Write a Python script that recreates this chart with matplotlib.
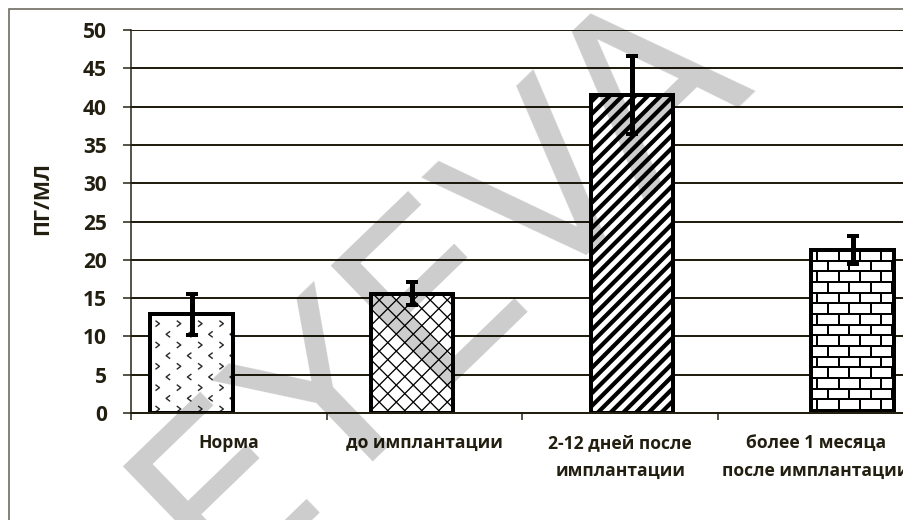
import numpy as np
import matplotlib
matplotlib.use("Agg")
import matplotlib.pyplot as plt
from matplotlib.collections import LineCollection
from matplotlib.patches import Rectangle
from matplotlib.transforms import IdentityTransform

# ---- data -------------------------------------------------------------
categories = ["Норма", "до имплантации",
              "2-12 дней после\nимплантации",
              "более 1 месяца\nпосле имплантации"]
values = [12.9, 15.6, 41.5, 21.3]
errors = [2.7, 1.5, 5.1, 1.8]
y_ticks = [0, 5, 10, 15, 20, 25, 30, 35, 40, 45, 50]
y_label = "ПГ/МЛ"
watermark = "EYEVA"

# ---- style ------------------------------------------------------------
W, H, DPI = 904, 520, 100
INK = "#221e10"
FONT = ["Open Sans", "DejaVu Sans"]
PT = 72.0 / DPI          # points per pixel

fig = plt.figure(figsize=(W / DPI, H / DPI), dpi=DPI)
fig.patch.set_facecolor("white")

# outer chart frame (runs off the right and bottom edges)
fig.add_artist(Rectangle((9 / W, -0.05), 1.1, 1 - 9 / H + 0.05,
                         transform=fig.transFigure, fill=False,
                         edgecolor="#6a665c", linewidth=1.6 * PT))

ax = fig.add_axes([131.5 / W, (H - 413) / H, (913.5 - 131.5) / W, (413 - 30) / H])
ax.set_xlim(0, 4)
ax.set_ylim(0, 50)

for s in ("top", "right"):
    ax.spines[s].set_visible(False)
ax.spines["left"].set_color(INK)
ax.spines["left"].set_linewidth(1.5 * PT)
ax.spines["bottom"].set_color(INK)
ax.spines["bottom"].set_linewidth(2 * PT)

ax.set_yticks(y_ticks)
ax.set_yticklabels([str(v) for v in y_ticks])
ax.yaxis.grid(True, color=INK, linewidth=2 * PT)
ax.set_axisbelow(True)
ax.tick_params(axis="y", direction="out", length=8 * PT, width=1.5 * PT,
               color=INK, pad=12, labelsize=15, labelcolor=INK)
for t in ax.get_yticklabels():
    t.set_fontfamily(FONT)
    t.set_fontweight("bold")

ax.set_xticks(np.arange(0, 5))
ax.set_xticklabels([])
ax.set_xticks(np.arange(4) + 0.5, minor=True)
ax.set_xticklabels(categories, minor=True, fontfamily=FONT, fontweight="bold",
                   fontsize=12.6, color=INK, linespacing=1.75)
ax.tick_params(axis="x", which="major", direction="out", length=7 * PT,
               width=1.5 * PT, color=INK)
ax.tick_params(axis="x", which="minor", length=0, pad=15)

fig.text(43 / W, 1 - 198 / H, y_label, rotation=90, ha="center", va="center",
         fontfamily=FONT, fontweight="bold", fontsize=15.5, color=INK)

# ---- bars ---------------------------------------------------------------
first, step, width = 0.307, 1.127, 0.42
xs = first + step * np.arange(len(values))

fills = ax.bar(xs, values, width, color="white", linewidth=0, zorder=2)
ax.bar(xs, values, width, facecolor="none", edgecolor="black",
       linewidth=4 * PT, zorder=2.4)
ax.errorbar(xs, values, yerr=errors, fmt="none", ecolor="black",
            elinewidth=5 * PT, capsize=4.3, capthick=4 * PT, zorder=2.6)

fig.canvas.draw()


def bbox_px(patch):
    (x0, y0), (x1, y1) = ax.transData.transform(
        [(patch.get_x(), patch.get_y()),
         (patch.get_x() + patch.get_width(), patch.get_y() + patch.get_height())])
    return x0, y0, x1, y1


def add_lines(patch, segs, lw, color="black"):
    lc = LineCollection(segs, colors=color, linewidths=lw * PT,
                        transform=IdentityTransform(), zorder=2.2)
    ax.add_collection(lc, autolim=False)
    lc.set_clip_path(patch)


def diagonal(patch, period, lw, sign=1):
    x0, y0, x1, y1 = bbox_px(patch)
    segs = []
    span = (x1 - x0) + (y1 - y0)
    for c in np.arange(-span - 2 * period, span + 2 * period, period):
        segs.append([(x0 - 5, y0 + sign * (-5) + c),
                     (x1 + 5, y0 + sign * (x1 - x0 + 5) + c)])
    add_lines(patch, segs, lw)


def bricks(patch, bw, bh, lw):
    x0, y0, x1, y1 = bbox_px(patch)
    segs = []
    rows = np.arange(y0 + 3, y1 + bh, bh)
    for k, y in enumerate(rows):
        segs.append([(x0 - 2, y), (x1 + 2, y)])
        off = (k % 2) * bw / 2
        for x in np.arange(x0 + 6 + off, x1, bw):
            segs.append([(x, y), (x, y + bh)])
    add_lines(patch, segs, lw)


def chevrons(patch, bw, bh, lw):
    x0, y0, x1, y1 = bbox_px(patch)
    segs = []
    for k, y in enumerate(np.arange(y0 + 4, y1, bh)):
        d = 1 if k % 2 == 0 else -1
        off = 0 if k % 2 == 0 else bw / 2
        for x in np.arange(x0 + 7 + off, x1, bw):
            segs.append([(x - 2 * d, y + 3), (x + 2 * d, y), (x - 2 * d, y - 3)])
    add_lines(patch, segs, lw, color="#2a2a2a")


chevrons(fills[0], 21.3, 10.67, 1.4)
diagonal(fills[1], 17, 1.3, 1)
diagonal(fills[1], 17, 1.3, -1)
diagonal(fills[2], 12.7, 4.2, 1)
bricks(fills[3], 21.3, 10.67, 2.0)

# ---- watermark ----------------------------------------------------------
fig.text(440 / W, 1 - 285 / H, watermark, rotation=44, rotation_mode="anchor",
         ha="center", va="center", fontsize=168, color="black", alpha=0.2,
         fontfamily="DejaVu Sans", zorder=10)

fig.savefig("out.png", dpi=DPI)
